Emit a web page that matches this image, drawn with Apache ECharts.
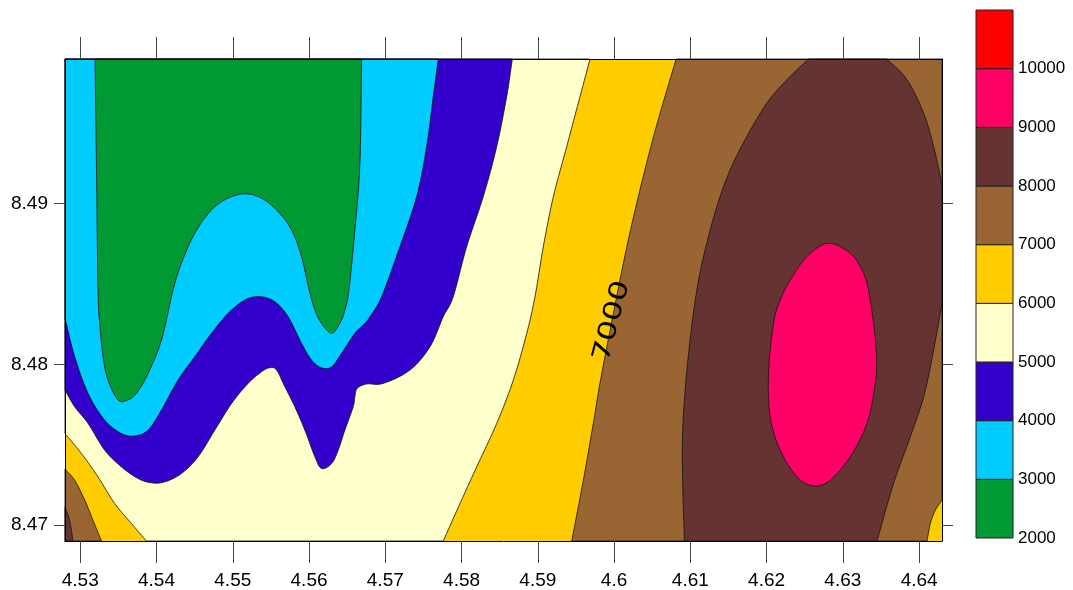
<!DOCTYPE html>
<html>
<head>
<meta charset="utf-8">
<script src="https://cdn.jsdelivr.net/npm/echarts@6.0.0/dist/echarts.min.js"></script>
<style>
  html, body { margin: 0; padding: 0; background: #fff; }
  #chart { width: 1073px; height: 590px; }
</style>
</head>
<body>
<div id="chart"></div>
<script>
// Filled contour map

// axis ranges and tick labels
const xRange = [4.528, 4.643];
const yRange = [8.469, 8.499];
const xTicks = [4.53, 4.54, 4.55, 4.56, 4.57, 4.58, 4.59, 4.6, 4.61, 4.62, 4.63, 4.64];
const yTicks = [8.47, 8.48, 8.49];

// contour levels and the colour of each band (levels[i] .. levels[i+1])
const levels = [2000, 3000, 4000, 5000, 6000, 7000, 8000, 9000, 10000, 11000];
const levelLabels = [2000, 3000, 4000, 5000, 6000, 7000, 8000, 9000, 10000];
const bandColors = ["#009933", "#00CCFF", "#3300CC", "#FFFFCC", "#FFCC00", "#996633", "#663333", "#FF0066", "#FF0000"];

// contour outlines [x, y] (regions below / above a level)
const below6000 = [
  [4.528, 8.499], [4.59685, 8.499], [4.59554, 8.49667], [4.59379, 8.49355], [4.59204, 8.49044],
  [4.59072, 8.48732], [4.58963, 8.48421], [4.58855, 8.48193], [4.58679, 8.47902], [4.58461, 8.47632],
  [4.58198, 8.47361], [4.57979, 8.47133], [4.5776, 8.469], [4.53868, 8.469], [4.53671, 8.47009],
  [4.53452, 8.47133], [4.53233, 8.47299], [4.53015, 8.47445], [4.528, 8.47569]
];
const below5000 = [
  [4.528, 8.499], [4.58666, 8.499], [4.58592, 8.49667], [4.58461, 8.49355], [4.58285, 8.49044],
  [4.58067, 8.48732], [4.57891, 8.48421], [4.5776, 8.48296], [4.57586, 8.48109], [4.57323, 8.47964],
  [4.56973, 8.47881], [4.56755, 8.47877], [4.56632, 8.4785], [4.56601, 8.47797], [4.56579, 8.47735],
  [4.5647, 8.4759], [4.56382, 8.47465], [4.56296, 8.47382], [4.56164, 8.47351], [4.56077, 8.47424],
  [4.55945, 8.4759], [4.55814, 8.47735], [4.55683, 8.4786], [4.55574, 8.47964], [4.55486, 8.47978],
  [4.55377, 8.47953], [4.55201, 8.47881], [4.54984, 8.47756], [4.54764, 8.4759], [4.54545, 8.47424],
  [4.54327, 8.4732], [4.54108, 8.47268], [4.53934, 8.47262], [4.53758, 8.47289], [4.5354, 8.47361],
  [4.53321, 8.47465], [4.53102, 8.47632], [4.52927, 8.47735], [4.528, 8.47839]
];
const below4000 = [
  [4.528, 8.499], [4.57695, 8.499], [4.57629, 8.49667], [4.57542, 8.49355], [4.57411, 8.49044],
  [4.57192, 8.48732], [4.56952, 8.48421], [4.56798, 8.48296], [4.56733, 8.48255], [4.56601, 8.48193],
  [4.56427, 8.48068], [4.56296, 8.47984], [4.56164, 8.47978], [4.56033, 8.48026], [4.55902, 8.4813],
  [4.55726, 8.48296], [4.55552, 8.48389], [4.55355, 8.48421], [4.55158, 8.484], [4.54939, 8.48317],
  [4.54721, 8.48193], [4.54502, 8.48047], [4.54283, 8.47902], [4.54065, 8.47715], [4.53889, 8.4759],
  [4.53715, 8.47554], [4.5354, 8.47569], [4.53321, 8.47652], [4.53102, 8.47819], [4.52927, 8.48047],
  [4.528, 8.48286]
];
const below3000 = [
  [4.53194, 8.499], [4.56689, 8.499], [4.56667, 8.49252], [4.56601, 8.48836], [4.56523, 8.48462],
  [4.5647, 8.48338], [4.56405, 8.48255], [4.56296, 8.48193], [4.56164, 8.48255], [4.56077, 8.48338],
  [4.56002, 8.48462], [4.55902, 8.4867], [4.55771, 8.48836], [4.55595, 8.4895], [4.55377, 8.49034],
  [4.55158, 8.49061], [4.54939, 8.49034], [4.54721, 8.48961], [4.54502, 8.48816], [4.54327, 8.48629],
  [4.54217, 8.48462], [4.54065, 8.48151], [4.53889, 8.47943], [4.53737, 8.47819], [4.53619, 8.47777],
  [4.53496, 8.47777], [4.53364, 8.47902], [4.53299, 8.48047], [4.53255, 8.48255], [4.53233, 8.48462],
  [4.53212, 8.49252]
];
const above7000 = [
  [4.60814, 8.499], [4.643, 8.499], [4.643, 8.47154], [4.64212, 8.47091], [4.64147, 8.47009],
  [4.64103, 8.469], [4.59445, 8.469], [4.59597, 8.47278], [4.59728, 8.47632], [4.59839, 8.47943],
  [4.60122, 8.48629], [4.60298, 8.49003], [4.60472, 8.49335], [4.60604, 8.49563]
];
const above7000Corner = [
  [4.528, 8.47347], [4.52927, 8.47278], [4.53059, 8.47154], [4.53167, 8.47029], [4.53278, 8.469], [4.528, 8.469]
];
const above8000 = [
  [4.6255, 8.499], [4.63578, 8.499], [4.63841, 8.49771], [4.64059, 8.49563], [4.6419, 8.49355],
  [4.64278, 8.49168], [4.643, 8.49106], [4.643, 8.4838], [4.6419, 8.48088], [4.64059, 8.47797],
  [4.63884, 8.47548], [4.63665, 8.47258], [4.63447, 8.469], [4.60923, 8.469], [4.60902, 8.47216],
  [4.60896, 8.47528], [4.60932, 8.47839], [4.60997, 8.48151], [4.61085, 8.48462], [4.61194, 8.48712],
  [4.61348, 8.48981], [4.61522, 8.4921], [4.61741, 8.49418], [4.62004, 8.49626], [4.62266, 8.49771]
];
const above8000Corner = [
  [4.528, 8.4711], [4.52849, 8.4705], [4.52884, 8.46967], [4.52905, 8.469], [4.528, 8.469]
];
const above9000 = [
  [4.62804, 8.48753], [4.63097, 8.48691], [4.63271, 8.48566], [4.63359, 8.484], [4.63438, 8.48088],
  [4.63425, 8.47881], [4.63316, 8.47632], [4.63097, 8.47424], [4.62834, 8.47278], [4.62615, 8.47243],
  [4.62398, 8.47299], [4.62178, 8.47465], [4.62047, 8.47673], [4.62025, 8.47943], [4.6209, 8.48255],
  [4.62178, 8.484], [4.6231, 8.48525], [4.62529, 8.4867]
];

// inline contour label [x, y, text]
const contourLabels = [[4.59974, 8.48269, "7000"]];

// drawing order: background band is 6000-7000 (grid background)
const regions = [
  { points: below6000, color: bandColors[3] },
  { points: below5000, color: bandColors[2] },
  { points: below4000, color: bandColors[1] },
  { points: below3000, color: bandColors[0] },
  { points: above7000, color: bandColors[5] },
  { points: above7000Corner, color: bandColors[5] },
  { points: above8000, color: bandColors[6] },
  { points: above8000Corner, color: bandColors[6] },
  { points: above9000, color: bandColors[7] }
];

// a vertex sitting on the plot frame
function onFrame(p) {
  const e = 1e-9;
  return Math.abs(p[0] - xRange[0]) < e || Math.abs(p[0] - xRange[1]) < e ||
    Math.abs(p[1] - yRange[0]) < e || Math.abs(p[1] - yRange[1]) < e;
}

// smooth the contour parts of a closed outline (Catmull-Rom), frame edges stay straight
function smoothOutline(data, pix) {
  const n = pix.length;
  const straight = (i) => {
    const a = (i + n) % n, b = (i + 1) % n;
    return onFrame(data[a]) && onFrame(data[b]);
  };
  const out = [];
  for (let i = 0; i < n; i++) {
    const p1 = pix[i], p2 = pix[(i + 1) % n];
    out.push(p1);
    if (straight(i)) continue;
    const p0 = straight(i - 1) ? [2 * p1[0] - p2[0], 2 * p1[1] - p2[1]] : pix[(i - 1 + n) % n];
    const p3 = straight(i + 1) ? [2 * p2[0] - p1[0], 2 * p2[1] - p1[1]] : pix[(i + 2) % n];
    const steps = 10;
    for (let s = 1; s < steps; s++) {
      const t = s / steps, t2 = t * t, t3 = t2 * t;
      const f = (k) => 0.5 * (2 * p1[k] + (-p0[k] + p2[k]) * t +
        (2 * p0[k] - 5 * p1[k] + 4 * p2[k] - p3[k]) * t2 +
        (-p0[k] + 3 * p1[k] - 3 * p2[k] + p3[k]) * t3);
      out.push([f(0), f(1)]);
    }
  }
  return out;
}

const chart = echarts.init(document.getElementById("chart"), null, { renderer: "canvas" });

const labelFont = "Liberation Sans, Arial, sans-serif";
const frameLine = { show: true, onZero: false, lineStyle: { color: "#000", width: 1 } };
const tickStyle = { color: "#444", width: 1 };

const option = {
  animation: false,
  backgroundColor: "#fff",
  grid: [
    { left: 65, right: 131, top: 59, bottom: 49, show: true, backgroundColor: bandColors[4], borderWidth: 0, outerBoundsMode: "none" },
    { left: 976, right: 60, top: 10, bottom: 52, outerBoundsMode: "none" }
  ],
  xAxis: [
    {
      type: "value", gridIndex: 0, position: "bottom", min: xRange[0], max: xRange[1], z: 10,
      axisLine: frameLine, splitLine: { show: false },
      axisTick: { show: true, length: 22, customValues: xTicks, lineStyle: tickStyle },
      axisLabel: { customValues: xTicks, margin: 30, fontSize: 19, color: "#000", fontFamily: labelFont }
    },
    {
      type: "value", gridIndex: 0, position: "top", min: xRange[0], max: xRange[1], z: 10,
      axisLine: frameLine, splitLine: { show: false },
      axisTick: { show: true, length: 22, customValues: xTicks, lineStyle: tickStyle },
      axisLabel: { show: false }
    },
    { type: "value", gridIndex: 1, min: 0, max: 1, show: false }
  ],
  yAxis: [
    {
      type: "value", gridIndex: 0, position: "left", min: yRange[0], max: yRange[1], z: 10,
      axisLine: frameLine, splitLine: { show: false },
      axisTick: { show: true, length: 11, customValues: yTicks, lineStyle: tickStyle },
      axisLabel: { customValues: yTicks, margin: 17, fontSize: 19, color: "#000", fontFamily: labelFont }
    },
    {
      type: "value", gridIndex: 0, position: "right", min: yRange[0], max: yRange[1], z: 10,
      axisLine: frameLine, splitLine: { show: false },
      axisTick: { show: true, length: 11, customValues: yTicks, lineStyle: tickStyle },
      axisLabel: { show: false }
    },
    {
      type: "value", gridIndex: 1, position: "right", min: levels[0], max: levels[levels.length - 1], interval: 1000,
      axisLine: { show: false }, axisTick: { show: false }, splitLine: { show: false },
      axisLabel: {
        customValues: levelLabels, margin: 5, fontSize: 17, color: "#000", fontFamily: labelFont,
        formatter: (v) => String(v)
      }
    }
  ],
  series: [
    {
      // filled contour bands
      type: "custom",
      xAxisIndex: 0, yAxisIndex: 0,
      silent: true,
      z: 2,
      data: regions.map((r, i) => [i]),
      renderItem: function (params, api) {
        const region = regions[params.dataIndex];
        const pix = region.points.map((p) => api.coord(p));
        return {
          type: "polygon",
          shape: { points: smoothOutline(region.points, pix) },
          style: { fill: region.color, stroke: "#111", lineWidth: 0.8 }
        };
      }
    },
    {
      // contour label
      type: "custom",
      xAxisIndex: 0, yAxisIndex: 0,
      silent: true,
      z: 3,
      data: contourLabels.map((l, i) => [i]),
      renderItem: function (params, api) {
        const lab = contourLabels[params.dataIndex];
        const pt = api.coord([lab[0], lab[1]]);
        return {
          type: "text",
          x: pt[0], y: pt[1],
          rotation: 75 * Math.PI / 180,
          scaleX: 1.3,
          style: {
            text: lab[2], fill: "#000", fontSize: 25, fontFamily: "DejaVu Sans, sans-serif",
            align: "center", verticalAlign: "middle"
          }
        };
      }
    },
    {
      // colour bar
      type: "custom",
      xAxisIndex: 2, yAxisIndex: 2,
      silent: true,
      data: bandColors.map((c, i) => [i]),
      renderItem: function (params, api) {
        const i = params.dataIndex;
        const p0 = api.coord([0, levels[i]]);
        const p1 = api.coord([1, levels[i + 1]]);
        return {
          type: "rect",
          shape: { x: p0[0], y: p1[1], width: p1[0] - p0[0], height: p0[1] - p1[1] },
          style: { fill: bandColors[i], stroke: "#222", lineWidth: 1 }
        };
      }
    }
  ]
};

chart.setOption(option);
</script>
</body>
</html>
